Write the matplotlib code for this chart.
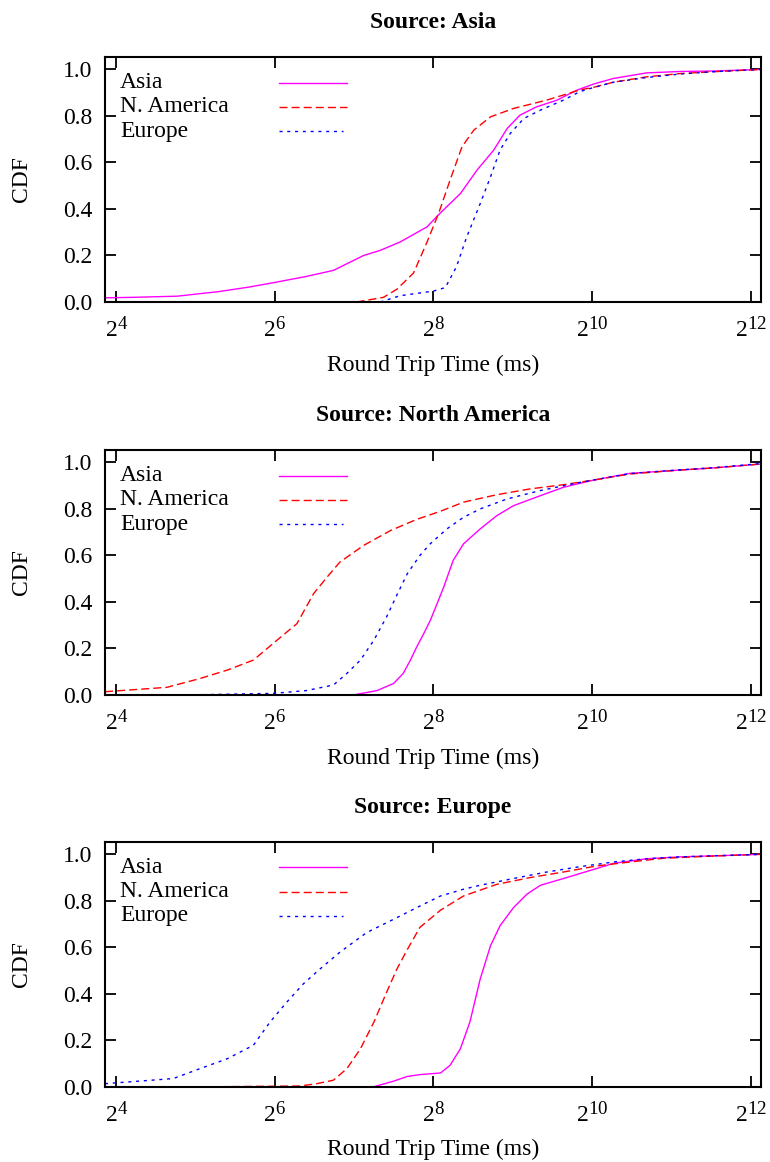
import numpy as np
import matplotlib
matplotlib.use('Agg')
import matplotlib.pyplot as plt
from matplotlib.ticker import FixedLocator, FixedFormatter, FormatStrFormatter

plt.rcParams['font.family'] = ['Liberation Serif', 'DejaVu Serif']
plt.rcParams['mathtext.fontset'] = 'custom'
plt.rcParams['mathtext.rm'] = 'Liberation Serif'
plt.rcParams['mathtext.default'] = 'regular'
# bigger superscripts, closer to the gnuplot look
try:
    import matplotlib._mathtext as _mt
    _mt.SHRINK_FACTOR = 0.8
except Exception:
    pass

# RTT values stored as log2(ms), CDF
sources = ['Asia', 'North America', 'Europe']
dest_names = ['Asia', 'N. America', 'Europe']

# Source: Asia
a_asia_x = [3.86, 4.2, 4.77, 5.3, 5.69, 6.03, 6.4, 6.74, 7.12, 7.33, 7.58, 7.92, 8.07, 8.34,
            8.55, 8.76, 8.93, 9.09, 9.30, 9.56, 9.81, 10.02, 10.27, 10.69, 11.11, 11.53, 12.14]
a_asia_y = [0.018, 0.02, 0.025, 0.045, 0.065, 0.086, 0.11, 0.136, 0.20, 0.222, 0.258, 0.323, 0.377, 0.466,
            0.567, 0.653, 0.746, 0.803, 0.839, 0.868, 0.911, 0.937, 0.961, 0.985, 0.991, 0.993, 1.0]
a_na_x = [7.03, 7.37, 7.54, 7.75, 7.92, 8.07, 8.21, 8.36, 8.51, 8.72, 9.01, 9.43, 9.85, 10.02,
          10.27, 10.69, 11.11, 11.53, 12.14]
a_na_y = [0.0, 0.02, 0.055, 0.125, 0.258, 0.385, 0.524, 0.667, 0.739, 0.796, 0.832, 0.868, 0.912, 0.923,
          0.945, 0.968, 0.982, 0.99, 1.0]
a_eu_x = [7.33, 7.58, 8.0, 8.15, 8.29, 8.42, 8.59, 8.72, 8.84, 8.97, 9.14, 9.35, 9.64, 9.85,
          10.02, 10.27, 10.69, 11.11, 11.53, 12.14]
a_eu_y = [0.0, 0.027, 0.047, 0.062, 0.151, 0.28, 0.423, 0.538, 0.653, 0.725, 0.789, 0.825, 0.868, 0.905,
          0.922, 0.945, 0.965, 0.98, 0.99, 1.0]

# Source: North America
n_asia_x = [6.99, 7.29, 7.50, 7.62, 7.71, 7.79, 7.88, 7.96, 8.02, 8.13, 8.25, 8.38, 8.59, 8.80,
            9.01, 9.35, 9.64, 10.02, 10.48, 11.11, 11.53, 12.13]
n_asia_y = [0.0, 0.019, 0.05, 0.093, 0.15, 0.207, 0.265, 0.32, 0.37, 0.464, 0.579, 0.65, 0.714, 0.771,
            0.814, 0.857, 0.893, 0.924, 0.953, 0.967, 0.976, 0.993]
n_na_x = [3.86, 4.64, 5.06, 5.40, 5.73, 6.03, 6.28, 6.49, 6.66, 6.82, 7.12, 7.46, 7.79, 8.09,
          8.38, 8.80, 9.22, 9.64, 10.02, 10.48, 11.11, 11.53, 12.13]
n_na_y = [0.014, 0.033, 0.071, 0.107, 0.15, 0.236, 0.307, 0.436, 0.507, 0.571, 0.643, 0.707, 0.755, 0.79,
          0.829, 0.861, 0.886, 0.904, 0.924, 0.95, 0.967, 0.976, 0.993]
n_eu_x = [4.9, 5.98, 6.40, 6.74, 6.91, 7.08, 7.25, 7.41, 7.54, 7.67, 7.83, 7.96, 8.17, 8.38,
          8.59, 8.93, 9.35, 9.85, 10.48, 11.11, 11.53, 12.13]
n_eu_y = [0.0, 0.007, 0.019, 0.043, 0.093, 0.15, 0.236, 0.336, 0.43, 0.521, 0.60, 0.65, 0.714, 0.764,
          0.80, 0.843, 0.879, 0.914, 0.952, 0.968, 0.977, 0.995]

# Source: Europe
e_asia_x = [7.24, 7.50, 7.67, 7.83, 8.09, 8.21, 8.34, 8.46, 8.59, 8.72, 8.84, 9.01, 9.18, 9.35,
            9.64, 9.98, 10.27, 10.69, 11.11, 12.13]
e_asia_y = [0.0, 0.025, 0.045, 0.053, 0.06, 0.093, 0.164, 0.279, 0.464, 0.607, 0.693, 0.771, 0.829, 0.867,
            0.896, 0.931, 0.961, 0.981, 0.989, 1.0]
e_na_x = [5.0, 6.32, 6.53, 6.74, 6.91, 7.08, 7.25, 7.41, 7.54, 7.67, 7.83, 8.09, 8.38, 8.80,
          9.22, 9.64, 10.06, 10.48, 10.9, 11.5, 12.13]
e_na_y = [0.0, 0.004, 0.014, 0.029, 0.079, 0.164, 0.279, 0.407, 0.507, 0.59, 0.686, 0.76, 0.821, 0.871,
          0.90, 0.924, 0.95, 0.967, 0.983, 0.992, 1.0]
e_eu_x = [3.86, 4.72, 5.06, 5.40, 5.73, 5.94, 6.15, 6.36, 6.57, 6.82, 7.16, 7.50, 7.79, 8.09,
          8.38, 8.59, 9.01, 9.43, 9.85, 10.27, 10.69, 11.11, 12.13]
e_eu_y = [0.014, 0.036, 0.079, 0.121, 0.179, 0.279, 0.364, 0.443, 0.507, 0.579, 0.664, 0.721, 0.771, 0.821,
          0.85, 0.867, 0.896, 0.924, 0.947, 0.967, 0.981, 0.989, 1.0]

panels = [
    [(a_asia_x, a_asia_y), (a_na_x, a_na_y), (a_eu_x, a_eu_y)],
    [(n_asia_x, n_asia_y), (n_na_x, n_na_y), (n_eu_x, n_eu_y)],
    [(e_asia_x, e_asia_y), (e_na_x, e_na_y), (e_eu_x, e_eu_y)],
]

colors = ['#ff00ff', '#ff0000', '#0000ff']
dashes = [None, (5.8, 2.9), (2.2, 3.4)]
xticks_exp = [4, 6, 8, 10, 12]
yticks = [0.0, 0.2, 0.4, 0.6, 0.8, 1.0]

fs = 17
fig = plt.figure(figsize=(7.7, 11.62), dpi=100)
bottoms = [0.7401, 0.4019, 0.0646]

for src, series, b in zip(sources, panels, bottoms):
    ax = fig.add_axes([0.1364, b, 0.8519, 0.2108])
    for (lx, cy), c, d in zip(series, colors, dashes):
        line, = ax.plot(2.0 ** np.array(lx), cy, color=c, lw=1.0)
        if d is not None:
            line.set_dashes(d)
    ax.set_xscale('log', base=2)
    ax.set_xlim(2 ** 3.86, 2 ** 12.13)
    ax.set_ylim(0, 1.053)
    ax.xaxis.set_major_locator(FixedLocator([2.0 ** e for e in xticks_exp]))
    ax.xaxis.set_major_formatter(FixedFormatter(['$2^{%d}$' % e for e in xticks_exp]))
    ax.xaxis.set_minor_locator(FixedLocator([]))
    ax.set_yticks(yticks)
    ax.yaxis.set_major_formatter(FormatStrFormatter('%.1f'))
    ax.tick_params(direction='in', length=8, width=1.3, top=True, right=True, labelsize=fs)
    ax.tick_params(axis='x', pad=10)
    ax.tick_params(axis='y', pad=9)
    for s in ax.spines.values():
        s.set_linewidth(1.5)
    ax.set_title('Source: ' + src, fontsize=fs, fontweight='bold', pad=21)
    ax.set_xlabel('Round Trip Time (ms)', fontsize=fs, va='center')
    ax.xaxis.set_label_coords(0.5, -0.257)
    ax.set_ylabel('CDF', fontsize=fs, va='center')
    ax.yaxis.set_label_coords(-0.127, 0.5)

    # gnuplot-style key: label on left, sample on right
    for i, (name, c, d) in enumerate(zip(dest_names, colors, dashes)):
        yk = 0.896 - i * 0.099
        ax.text(0.023, yk, name, transform=ax.transAxes, fontsize=fs, va='center', ha='left')
        x1 = 0.369 if i < 2 else 0.363
        kl, = ax.plot([0.265, x1], [yk, yk], transform=ax.transAxes, color=c, lw=1.0)
        if d is not None:
            kl.set_dashes(d)

fig.savefig('out.png', dpi=100)
